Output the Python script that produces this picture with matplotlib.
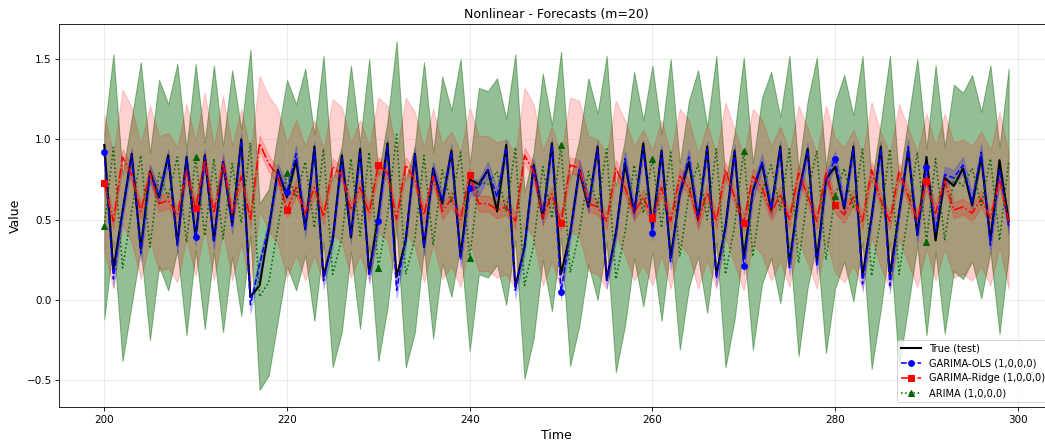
import numpy as np
import matplotlib.pyplot as plt

# ---- dados (t = 200..299) ----
time_steps = np.arange(200, 300)

true_vals = [
    0.965, 0.19, 0.55, 0.91, 0.32, 0.80, 0.64, 0.90, 0.35, 0.89,
    0.39, 0.90, 0.37, 0.86, 0.47, 1.00, 0.02, 0.09, 0.44, 0.81,
    0.64, 0.87, 0.44, 0.955, 0.145, 0.37, 0.90, 0.39, 0.94, 0.17,
    0.53, 0.975, 0.145, 0.37, 0.91, 0.33, 0.82, 0.60, 0.93, 0.27,
    0.75, 0.72, 0.81, 0.55, 0.965, 0.08, 0.33, 0.84, 0.51, 0.975,
    0.16, 0.415, 0.81, 0.58, 0.955, 0.125, 0.415, 0.85, 0.54, 0.975,
    0.45, 0.93, 0.26, 0.66, 0.86, 0.50, 0.955, 0.155, 0.455, 0.93,
    0.26, 0.68, 0.85, 0.56, 0.955, 0.22, 0.66, 0.94, 0.24, 0.75,
    0.83, 0.57, 0.955, 0.145, 0.52, 0.955, 0.155, 0.54, 0.93, 0.405,
    0.89, 0.37, 0.76, 0.71, 0.82, 0.59, 0.89, 0.37, 0.87, 0.49,
]

ols_vals = [
    0.92, 0.13, 0.55, 0.90, 0.29, 0.79, 0.65, 0.89, 0.34, 0.88,
    0.39, 0.89, 0.36, 0.86, 0.46, 0.99, -0.03, 0.22, 0.45, 0.80,
    0.67, 0.91, 0.44, 0.94, 0.12, 0.38, 0.88, 0.40, 0.92, 0.15,
    0.49, 0.96, 0.06, 0.38, 0.90, 0.33, 0.81, 0.62, 0.92, 0.25,
    0.70, 0.70, 0.81, 0.64, 0.95, 0.06, 0.33, 0.83, 0.52, 0.96,
    0.05, 0.41, 0.82, 0.59, 0.94, 0.12, 0.41, 0.88, 0.55, 0.945,
    0.42, 0.92, 0.24, 0.67, 0.89, 0.51, 0.94, 0.135, 0.46, 0.92,
    0.21, 0.67, 0.86, 0.57, 0.94, 0.20, 0.65, 0.93, 0.21, 0.74,
    0.88, 0.58, 0.94, 0.10, 0.52, 0.94, 0.09, 0.54, 0.955, 0.40,
    0.83, 0.425, 0.78, 0.76, 0.84, 0.61, 0.92, 0.34, 0.81, 0.46,
]

ridge_vals = [
    0.73, 0.49, 0.89, 0.78, 0.55, 0.79, 0.60, 0.62, 0.53, 0.80,
    0.57, 0.87, 0.54, 0.85, 0.54, 0.77, 0.50, 0.975, 0.85, 0.77,
    0.56, 0.70, 0.54, 0.70, 0.52, 0.83, 0.78, 0.56, 0.70, 0.54,
    0.84, 0.79, 0.50, 0.84, 0.75, 0.53, 0.77, 0.55, 0.63, 0.50,
    0.78, 0.60, 0.60, 0.56, 0.58, 0.49, 0.90, 0.80, 0.51, 0.66,
    0.48, 0.84, 0.82, 0.60, 0.58, 0.49, 0.82, 0.70, 0.54, 0.64,
    0.51, 0.70, 0.49, 0.77, 0.70, 0.49, 0.67, 0.49, 0.81, 0.64,
    0.48, 0.77, 0.70, 0.54, 0.66, 0.50, 0.79, 0.65, 0.49, 0.79,
    0.59, 0.53, 0.64, 0.49, 0.81, 0.62, 0.49, 0.80, 0.65, 0.50,
    0.74, 0.54, 0.74, 0.56, 0.58, 0.54, 0.63, 0.51, 0.75, 0.49,
]

arima_vals = [
    0.46, 0.95, 0.20, 0.55, 0.90, 0.33, 0.79, 0.64, 0.89, 0.36,
    0.89, 0.40, 0.88, 0.38, 0.85, 0.48, 0.98, 0.02, 0.11, 0.45,
    0.79, 0.64, 0.86, 0.45, 0.94, 0.16, 0.38, 0.88, 0.40, 0.92,
    0.20, 0.53, 1.03, 0.16, 0.38, 0.90, 0.34, 0.81, 0.60, 0.92,
    0.26, 0.74, 0.72, 0.80, 0.55, 0.95, 0.09, 0.34, 0.83, 0.51,
    0.965, 0.17, 0.42, 0.80, 0.58, 0.94, 0.13, 0.42, 0.84, 0.54,
    0.88, 0.45, 0.92, 0.27, 0.66, 0.85, 0.50, 0.94, 0.16, 0.46,
    0.93, 0.27, 0.68, 0.84, 0.56, 0.94, 0.23, 0.66, 0.93, 0.25,
    0.65, 0.82, 0.57, 0.94, 0.15, 0.52, 0.94, 0.16, 0.54, 0.92,
    0.36, 0.88, 0.37, 0.76, 0.71, 0.82, 0.59, 0.88, 0.37, 0.86,
]

# meias larguras das bandas
ols_band = 0.05
ridge_band_narrow = 0.05
ridge_band_wide = 0.42
arima_band = 0.58

true_vals = np.array(true_vals)
ols_vals = np.array(ols_vals)
ridge_vals = np.array(ridge_vals)
arima_vals = np.array(arima_vals)

# ---- figura (dpi 75 -> 1045x445) ----
fig = plt.figure(figsize=(1045 / 75, 445 / 75), dpi=75)
ax = fig.add_axes([0.0565, 0.0847, 0.952, 0.8607])

ax.fill_between(time_steps, arima_vals - arima_band, arima_vals + arima_band,
                color='darkgreen', alpha=0.42)
ax.fill_between(time_steps, ridge_vals - ridge_band_wide, ridge_vals + ridge_band_wide,
                color='red', alpha=0.18)
ax.fill_between(time_steps, ridge_vals - ridge_band_narrow, ridge_vals + ridge_band_narrow,
                color='red', alpha=0.2)
ax.fill_between(time_steps, ols_vals - ols_band, ols_vals + ols_band,
                color='blue', alpha=0.2)

ax.plot(time_steps, true_vals, color='black', linewidth=2, label='True (test)')
ax.plot(time_steps, ols_vals, color='blue', linestyle='--', marker='o',
        markersize=5.5, markevery=10, linewidth=1.5, label='GARIMA-OLS (1,0,0,0)')
ax.plot(time_steps, ridge_vals, color='red', linestyle='-.', marker='s',
        markersize=5.5, markevery=10, linewidth=1.5, label='GARIMA-Ridge (1,0,0,0)')
ax.plot(time_steps, arima_vals, color='darkgreen', linestyle=':', marker='^',
        markersize=5.5, markevery=10, linewidth=1.5, label='ARIMA (1,0,0,0)')

ax.set_xlim(195.05, 303.95)
ax.set_ylim(-0.668, 1.716)
ax.set_xticks([200, 220, 240, 260, 280, 300])
ax.set_yticks([-0.5, 0.0, 0.5, 1.0, 1.5])
ax.tick_params(labelsize=10)
ax.set_title('Nonlinear - Forecasts (m=20)', fontsize=12)
ax.set_xlabel('Time', fontsize=12)
ax.set_ylabel('Value', fontsize=12)
ax.grid(True, alpha=0.3)
ax.legend(loc='lower right', fontsize=9.5)

fig.savefig('out.png', dpi=75)
